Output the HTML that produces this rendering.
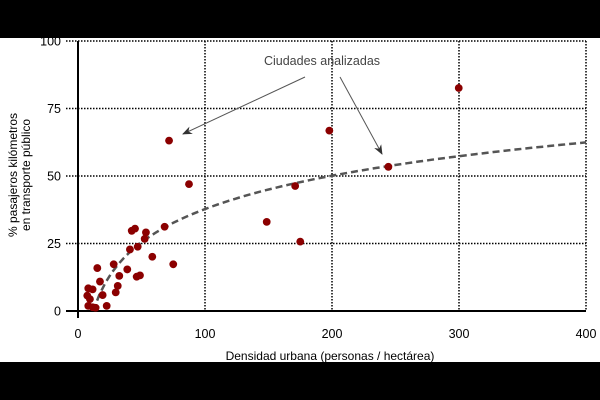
<!DOCTYPE html>
<html><head><meta charset="utf-8"><style>
body{margin:0;background:#000;}
svg{display:block;font-family:"Liberation Sans",sans-serif;}
</style></head><body>
<svg id="chart" width="600" height="400" viewBox="0 0 600 400">
<rect x="0" y="0" width="600" height="400" fill="#000"/>
<rect x="0" y="38" width="600" height="324" fill="#fff"/>
<g id="grid"></g>
<g id="axes"></g>
<g id="trend"></g>
<g id="points"></g>
<g>
<text x="322" y="65" text-anchor="middle" font-size="12.5" fill="#444">Ciudades analizadas</text>
<defs><marker id="ah" markerWidth="10" markerHeight="8" refX="9" refY="4" orient="auto"><path d="M0,0 L10,4 L0,8 L3,4 Z" fill="#333"/></marker></defs>
<line x1="305" y1="77" x2="183" y2="134" stroke="#555" stroke-width="1" marker-end="url(#ah)"/>
<line x1="340" y1="77" x2="382" y2="154" stroke="#555" stroke-width="1" marker-end="url(#ah)"/>
</g>
<text x="330" y="360" text-anchor="middle" font-size="12" fill="#000">Densidad urbana (personas / hectárea)</text>
<text transform="translate(17,175) rotate(-90)" text-anchor="middle" font-size="12" fill="#000"><tspan x="0" dy="0">% pasajeros kilómetros</tspan><tspan x="0" dy="13">en transporte público</tspan></text>
</svg>
<script>
const xTicks=[0,100,200,300,400];
const yTicks=[0,25,50,75,100];
const xs=[71.7,87.4,148.6,175,15.2,17.3,8.1,11.5,7.3,9.4,8.1,13.9,11.6,19.4,22.6,28.1,29.7,31.3,32.5,38.8,40.9,42.3,44.9,46.2,48.8,47,52.5,53.5,58.5,68.2,75,197.9,244.4,299.8,171];
const ys=[63.1,47,33,25.7,15.9,10.9,8.4,8.0,5.7,4.4,1.9,1.2,1.4,5.9,1.9,17.3,6.9,9.3,13,15.4,22.8,29.7,30.5,12.7,13.2,23.8,26.7,29.1,20.1,31.2,17.3,66.8,53.4,82.6,46.3];
const trendCoef=[17.8,-44.2];
const trendRange=[12,400];
const X=v=>78+v*1.27, Y=v=>311-v*2.7;
const NS="http://www.w3.org/2000/svg";
function mk(tag,attrs,parent){const e=document.createElementNS(NS,tag);for(const k in attrs)e.setAttribute(k,attrs[k]);document.getElementById(parent).appendChild(e);return e;}
xTicks.forEach(t=>{
 if(t>0){const l=mk('line',{x1:X(t),x2:X(t),y1:Y(100),y2:Y(0),stroke:'#000','stroke-width':1.5,'stroke-dasharray':'1.5,1.5'},'grid');
 
 }
 const tx=mk('text',{x:X(t),y:338,'text-anchor':'middle','font-size':12.5},'axes');tx.textContent=t;
 
 
});
yTicks.forEach(t=>{
 if(t>0){const l=mk('line',{x1:66,x2:X(400),y1:Y(t),y2:Y(t),stroke:'#000','stroke-width':1.5,'stroke-dasharray':'1.5,1.5'},'grid');
 
 }
 const tx=mk('text',{x:61,y:Y(t)+4.5,'text-anchor':'end','font-size':12.5},'axes');tx.textContent=t;
 
 
});
const ya=mk('line',{x1:X(0),x2:X(0),y1:Y(100),y2:318,stroke:'#000','stroke-width':2},'axes');


const xa=mk('line',{x1:66,x2:X(400),y1:Y(0),y2:Y(0),stroke:'#000','stroke-width':2},'axes');


let d='';
for(let i=0;i<=80;i++){const v=trendRange[0]+(trendRange[1]-trendRange[0])*i/80;const yy=trendCoef[0]*Math.log(v)+trendCoef[1];d+=(i?'L':'M')+X(v).toFixed(1)+','+Y(yy).toFixed(1);}
const tp=mk('path',{d:d,fill:'none',stroke:'#555','stroke-width':2.5,'stroke-dasharray':'7,4'},'trend');


xs.forEach((v,i)=>{
 const c=mk('circle',{cx:X(v),cy:Y(ys[i]),r:3.9,fill:'#8b0000'},'points');
 
 
});
</script>
</body></html>
